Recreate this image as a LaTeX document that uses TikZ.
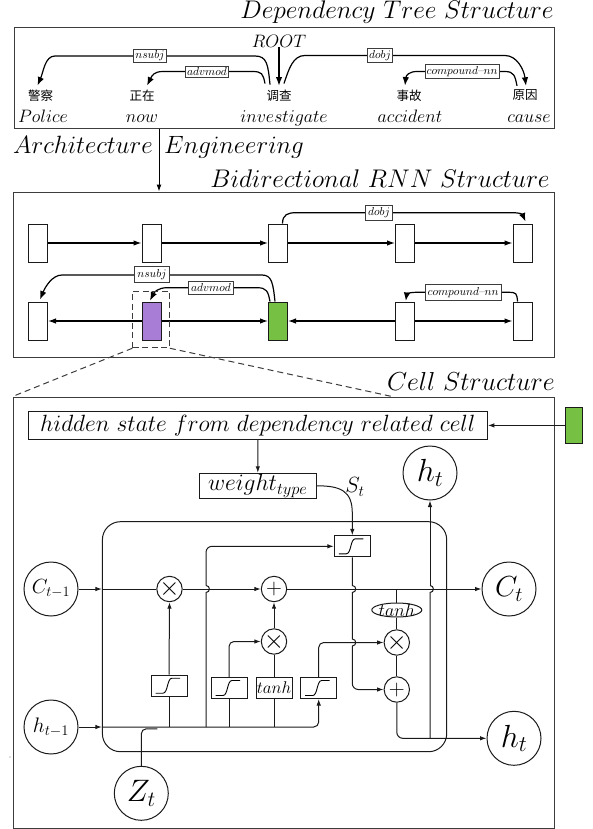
\RequirePackage{fix-cm}
\documentclass[tikz,border=0pt]{standalone}
\usepackage{fontspec}
\newfontfamily\cjkfont{Noto Sans CJK SC}
\usetikzlibrary{arrows.meta,calc,shapes.geometric}
\newcommand\fsz[1]{\fontsize{#1}{#1}\selectfont}
\definecolor{lineclr}{HTML}{1A1A1A}
\definecolor{purplec}{HTML}{A77DD6}
\definecolor{greenc}{HTML}{76C043}
\definecolor{framec}{HTML}{3C3C3C}
\begin{document}
\begin{tikzpicture}[x=1pt,y=-1pt,
  frame/.style={draw=framec, line width=1pt, inner sep=0pt},
  ttl/.style={inner sep=0pt, anchor=base east, font=\fsz{25.5}},
  word/.style={inner sep=0pt, font=\cjkfont\fsz{12.5}},
  eword/.style={inner sep=0pt, anchor=base, font=\fsz{18}},
  deparc/.style={line width=1.2pt, -{Latex[length=8.5pt,width=6.5pt]}},
  deplab/.style={draw=framec, fill=white, line width=0.8pt, inner sep=1.5pt, font=\fsz{11.5}},
  rnnlab/.style={deplab, inner sep=2.5pt},
  rnncell/.style={draw=lineclr, line width=1pt, minimum width=19pt, minimum height=38pt, inner sep=0pt},
  rarr/.style={line width=1.2pt, -{Latex[length=8pt,width=5.5pt]}},
  cl/.style={line width=1pt, draw=lineclr},
  ca/.style={cl, -{Latex[length=6.5pt,width=4.5pt]}},
  cir/.style={circle, draw=lineclr, line width=1pt, minimum size=54pt, inner sep=0pt},
  op/.style={circle, draw=lineclr, line width=1pt, minimum size=25.4pt, inner sep=0pt},
  optxt/.style={inner sep=0pt},
  gate/.style={draw=lineclr, line width=1pt, minimum width=36pt, minimum height=21pt, inner sep=0pt},
  sig/.pic={\draw[line width=0.9pt] (-13.5,7.5) -- (-6,7.5) .. controls (-1,7.5) and (-2,-7.5) .. (3,-7.5) -- (11,-7.5);}
]
\useasboundingbox (0,0) rectangle (592,829);

% ---------------- Dependency tree ----------------
\node[ttl] (t1) at (554,19) {$Dependency\ Tree\ Structure$};
\node[frame, minimum width=540pt, minimum height=101pt] (topbox) at (284,78.5) {};
\node[inner sep=0pt, font=\fsz{18}] (root) at (279,41) {$ROOT$};
\node[word] (w1) at (40.5,95.5) {警察};
\node[word] (w2) at (142,95.5) {正在};
\node[word] (w3) at (279,95.5) {调查};
\node[word] (w4) at (409,95.5) {事故};
\node[word] (w5) at (525,95.5) {原因};
\node[eword] (e1) at (43,123) {$Police$};
\node[eword] (e2) at (142,123) {$now$};
\node[eword] (e3) at (284,123) {$investigate$};
\node[eword] (e4) at (410,123) {$accident$};
\node[eword] (e5) at (529,123) {$cause$};

\draw[deparc] (root.south) -- ([yshift=4pt]w3.north);
\draw[deparc] ([xshift=-9pt,yshift=5pt]w3.north) .. controls +(-2,-20) and +(12,0) .. (255,56) -- (55,56) .. controls +(-10,0) and +(6,-14) .. ([xshift=-3pt,yshift=4pt]w1.north);
\draw[deparc] ([xshift=-14pt,yshift=6pt]w3.north) .. controls +(-2,-10) and +(10,0) .. (252,71.5) -- (163,71.5) .. controls +(-9,0) and +(5,-10) .. ([xshift=5pt,yshift=4pt]w2.north);
\draw[deparc] ([xshift=5pt,yshift=6pt]w3.north) .. controls +(5,-15) and +(-12,0) .. (305,55.5) -- (505,55.5) .. controls +(12,0) and +(-2,-16) .. ([xshift=1pt,yshift=4pt]w5.north);
\draw[deparc] ([xshift=-8pt,yshift=4pt]w5.north) .. controls +(-2,-10) and +(9,0) .. (505,71.5) -- (417,71.5) .. controls +(-8,0) and +(1,-10) .. ([xshift=-4pt,yshift=4pt]w4.north);
\node[deplab] (lnsubj) at (150,56) {$nsubj$};
\node[deplab] (ladv) at (207,71.5) {$advmod$};
\node[deplab] (ldobj) at (380,55.5) {$dobj$};
\node[deplab] (lcnn) at (462,71.5) {$compound$--$nn$};

% ---------------- Bidirectional RNN ----------------
\node[ttl] (t2) at (550,187) {$Bidirectional\ RNN\ Structure$};
\node[frame, minimum width=541pt, minimum height=165pt] (rnnbox) at (283.5,274.5) {};
\node[inner sep=0pt, anchor=base east, font=\fsz{25}] (arch) at (153,154) {$Architecture$};
\node[inner sep=0pt, anchor=base west, font=\fsz{25}] (eng) at (164,154) {$Engineering$};
\coordinate (ax) at (159,0);
\draw[line width=1pt, -{Latex[length=7pt,width=5pt]}] (topbox.south -| ax) -- (rnnbox.north -| ax);

\node[rnncell] (u1) at (38,243) {};
\node[rnncell] (u2) at (151.5,243) {};
\node[rnncell] (u3) at (278,243) {};
\node[rnncell] (u4) at (405,243) {};
\node[rnncell] (u5) at (522.5,243) {};
\node[rnncell] (d1) at (38,321) {};
\node[rnncell, fill=purplec] (d2) at (151.5,321) {};
\node[rnncell, fill=greenc] (d3) at (278,321) {};
\node[rnncell] (d4) at (405,321) {};
\node[rnncell] (d5) at (522.5,321) {};
\draw[rarr] (u1.east) -- (u2.west);
\draw[rarr] (u2.east) -- (u3.west);
\draw[rarr] (u3.east) -- (u4.west);
\draw[rarr] (u4.east) -- (u5.west);
\draw[rarr] (d2.west) -- (d1.east);
\draw[rarr] (d2.east) -- (d3.west);
\draw[rarr] (d4.west) -- (d3.east);
\draw[rarr] (d4.east) -- (d5.west);

\draw[deparc] ([xshift=4.5pt]u3.north) .. controls +(0,-9) and +(-8,0) .. (296,212.7) -- (512,212.7) .. controls +(9,0) and +(-3,-7) .. ([xshift=3pt,yshift=2pt]u5.north);
\draw[deparc] ([xshift=-3pt]d3.north) .. controls +(-2,-18) and +(10,0) .. (262,275) -- (62,275) .. controls +(-10,0) and +(5,-12) .. ([xshift=2pt,yshift=2pt]d1.north);
\draw[deparc] ([xshift=-8pt]d3.north) .. controls +(-2,-10) and +(10,0) .. (257,287.7) -- (167,287.7) .. controls +(-9,0) and +(4,-8) .. ([xshift=-1.5pt,yshift=1pt]d2.north);
\draw[deparc] ([xshift=-4.9pt]d5.north) .. controls +(-1,-8) and +(9,0) .. (508,292.3) -- (417,292.3) .. controls +(-8,0) and +(1,-7) .. ([xshift=0.8pt,yshift=0.5pt]d4.north);
\node[rnnlab] (rl1) at (379,213) {$dobj$};
\node[rnnlab] (rl2) at (152,274.5) {$nsubj$};
\node[rnnlab] (rl3) at (211,288) {$advmod$};
\node[rnnlab] (rl4) at (463,292.3) {$compound$--$nn$};

\node[draw=framec, dash pattern=on 6pt off 3.5pt, line width=1pt, minimum width=36.5pt, minimum height=56.7pt, inner sep=0pt] (dr) at (151.1,319.4) {};

% ---------------- Cell ----------------
\node[ttl, font=\fsz{26}] (t3) at (555,390) {$Cell\ Structure$};
\node[frame, minimum width=541pt, minimum height=431pt] (cellbox) at (283.5,612.5) {};
\coordinate (cx) at (392,0);
\draw[draw=framec, dash pattern=on 6pt off 4pt, line width=1pt] (dr.south west) -- (cellbox.north west);
\draw[draw=framec, dash pattern=on 6pt off 4pt, line width=1pt] (dr.south east) -- (cellbox.north -| cx);

\node[draw=lineclr, line width=1pt, minimum width=459pt, minimum height=27.3pt, inner sep=0pt, font=\fsz{23.5}] (hid) at (257.9,425.4) {$hidden\ state\ from\ dependency\ related\ cell$};
\node[draw=lineclr, fill=greenc, line width=1pt, minimum width=17pt, minimum height=36.6pt, inner sep=0pt] (gsq) at (573.5,425.4) {};
\draw[ca] (gsq.west) -- (hid.east);
\node[draw=lineclr, line width=1pt, minimum width=117.6pt, minimum height=25pt, inner sep=0pt, font=\fsz{23.5}] (wt) at (257.8,485.8) {$weight_{type}$};
\draw[ca] (hid.south) -- (wt.north);
\node[inner sep=0pt, font=\fsz{22}] (st) at (355,487) {$S_t$};
\node[gate] (sS) at (352.3,546.3) {};
\pic at (sS) {sig};
\draw[ca] (wt.east) .. controls +(24,0) and +(0,-22) .. ($(sS.north)+(0,-22)$) -- (sS.north);
\node[cir, font=\fsz{32}] (hU) at (430,473) {$h_t$};
\node[draw=lineclr, line width=1pt, rounded corners=18pt, minimum width=344.3pt, minimum height=230pt, inner sep=0pt] (rr) at (274.55,636.7) {};

\node[cir, font=\fsz{20.5}] (Cp) at (51,589) {$C_{t-1}$};
\node[cir, font=\fsz{21}] (hp) at (51,727) {$h_{t-1}$};
\node[cir, font=\fsz{29}] (Cn) at (509,589) {$C_t$};
\node[cir, font=\fsz{32}] (hn) at (514,738.3) {$h_t$};
\node[cir, font=\fsz{31}] (Zt) at (141.3,793.3) {$Z_t$};

\node[op] (m1) at (169.5,589) {};
\node[op] (a1) at (274,589) {};
\node[op] (m2) at (274,641.5) {};
\node[op] (m3) at (396.8,642.5) {};
\node[op] (a2) at (396.8,689.5) {};
\node[optxt, font=\fsz{26}] (m1t) at (m1) {$\times$};
\node[optxt, font=\fsz{22}] (a1t) at (a1) {$+$};
\node[optxt, font=\fsz{26}] (m2t) at (m2) {$\times$};
\node[optxt, font=\fsz{26}] (m3t) at (m3) {$\times$};
\node[optxt, font=\fsz{22}] (a2t) at (a2) {$+$};

\node[gate] (s1) at (169,685.7) {};
\pic at (s1) {sig};
\node[gate] (s2) at (229,688) {};
\pic at (s2) {sig};
\node[gate, font=\fsz{17}] (tb) at (274,688) {$tanh$};
\node[gate] (s3) at (318.7,688) {};
\pic at (s3) {sig};
\node[ellipse, draw=lineclr, line width=1pt, minimum width=50pt, minimum height=14pt, inner sep=0pt] (tE) at (396.8,610) {};
\node[inner sep=0pt, font=\fsz{18}] (tEt) at (tE) {$tanh$};

\draw[ca] (Cp.east) -- (Cp.east -| rr.west);
\draw[cl] (Cp.east -| rr.west) -- (m1.west);
\draw[ca] (m1.east) -- (a1.west);
\draw[ca] (a1.east) -- (Cn.west);
\draw[ca] (s1.north) -- (m1.south);
\draw[ca] (hp.east) -- (hp.east -| rr.west);
\draw[ca, rounded corners=5pt] (hp.east -| rr.west) -| (s3.south);
\draw[cl] (s1.south) -- (s1.south |- hp.east);
\draw[cl] (s2.south) -- (s2.south |- hp.east);
\draw[cl] (tb.south) -- (tb.south |- hp.east);
\draw[ca, rounded corners=5pt] (s2.north) |- (m2.west);
\draw[cl] (tb.north) -- (m2.south);
\draw[ca] (m2.north) -- (a1.south);

\coordinate (xS) at (206,0);
\draw[cl] (xS |- hp.east) -- ($(xS |- Cp.east)+(0,3.5)$) .. controls +(4.5,0) and +(4.5,0) .. ($(xS |- Cp.east)+(0,-3.5)$);
\draw[ca, rounded corners=6pt] ($(xS |- Cp.east)+(0,-3.5)$) |- (sS.west);

\draw[cl] (sS.south) -- ($(sS.south |- Cp.east)+(0,-3.5)$) .. controls +(4.5,0) and +(4.5,0) .. ($(sS.south |- Cp.east)+(0,3.5)$) -- ($(sS.south |- m3.west)+(0,-3.5)$) .. controls +(4.5,0) and +(4.5,0) .. ($(sS.south |- m3.west)+(0,3.5)$);
\draw[ca, rounded corners=6pt] ($(sS.south |- m3.west)+(0,3.5)$) |- (a2.west);

\draw[ca, rounded corners=5pt] (s3.north) |- (m3.west);
\draw[cl] (m3.north |- Cp.east) -- (tE.north);
\draw[cl] (tE.south) -- (m3.north);
\draw[cl] (m3.south) -- (a2.north);
\draw[ca, rounded corners=6pt] (a2.south) |- (hn.west);

\draw[cl] (hU.south |- hn.west) -- ($(hU.south |- Cp.east)+(0,3.5)$) .. controls +(4.5,0) and +(4.5,0) .. ($(hU.south |- Cp.east)+(0,-3.5)$);
\draw[ca] ($(hU.south |- Cp.east)+(0,-3.5)$) -- (hU.south);

\draw[cl, rounded corners=5pt] (Zt.north) |- ($(Zt.north |- hp.east)+(16,1.8)$);

\fill[black!55] (10,757) circle (0.7pt);
\end{tikzpicture}
\end{document}
